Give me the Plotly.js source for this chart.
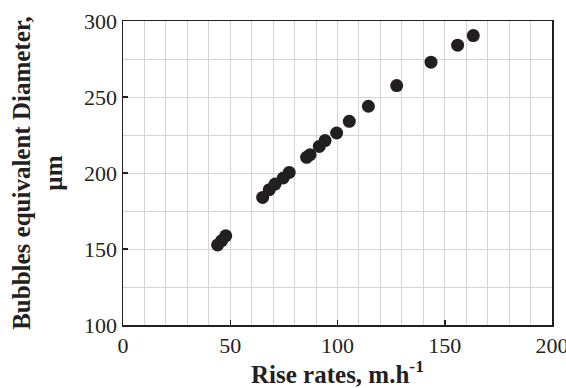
<!DOCTYPE html>
<html><head><meta charset="utf-8">
<script src="https://cdn.plot.ly/plotly-3.0.1.min.js"></script>
<style>html,body{margin:0;padding:0;background:#fff}#chart{width:566px;height:388px}</style>
</head><body><div id="chart"></div>
<script>
const riseRate = [44.1, 46.0, 47.9, 65.1, 68.2, 70.9, 74.7, 77.5, 85.6, 87.2, 91.5, 94.2, 99.6, 105.5, 114.4, 127.6, 143.6, 156.0, 163.3];
const diameter = [152.7, 155.5, 158.7, 183.9, 189.0, 192.7, 196.7, 200.4, 210.3, 212.0, 217.5, 221.3, 226.3, 234.0, 243.9, 257.5, 272.9, 284.1, 290.4];
const xTicks = [0, 50, 100, 150, 200];
const yTicks = [100, 150, 200, 250, 300];

const serif = "Liberation Serif";
const gridColor = "#d4d4d4";

Plotly.newPlot("chart", [{
  x: riseRate, y: diameter, type: "scatter", mode: "markers",
  marker: {color: "#231f20", size: 13},
  hoverinfo: "skip"
}], {
  width: 566, height: 388,
  margin: {l: 123, r: 14, t: 21, b: 63},
  paper_bgcolor: "#fff", plot_bgcolor: "#fff",
  showlegend: false,
  font: {family: serif, color: "#231f20"},
  xaxis: {
    range: [0, 200], tickvals: xTicks, ticktext: xTicks.map(String),
    ticklabeloverflow: "allow",
    ticks: "inside", ticklen: 5, tickwidth: 1.5, tickcolor: "#231f20",
    showline: true, linecolor: "#231f20", linewidth: 1.5, mirror: true,
    showgrid: true, gridcolor: gridColor, gridwidth: 1,
    minor: {dtick: 10, tick0: 0, showgrid: true, gridcolor: gridColor, gridwidth: 1, ticks: ""},
    zeroline: false,
    tickfont: {family: serif, size: 22, color: "#231f20"},
    title: {text: "<b>Rise rates, m.h<sup>-1</sup></b>", font: {family: serif, size: 25, color: "#231f20"}, standoff: 8}
  },
  yaxis: {
    range: [100, 300], tickvals: yTicks, ticktext: yTicks.map(String),
    ticks: "inside", ticklen: 5, tickwidth: 1.5, tickcolor: "#231f20",
    showline: true, linecolor: "#231f20", linewidth: 1.5, mirror: true,
    showgrid: true, gridcolor: gridColor, gridwidth: 1,
    minor: {dtick: 25, tick0: 100, showgrid: true, gridcolor: gridColor, gridwidth: 1, ticks: ""},
    zeroline: false,
    tickfont: {family: serif, size: 22, color: "#231f20"},
    title: {text: "<b>Bubbles equivalent Diameter,</b><br><b>µm</b>", font: {family: serif, size: 25, color: "#231f20"}, standoff: 14}
  }
}, {staticPlot: true});
</script></body></html>
